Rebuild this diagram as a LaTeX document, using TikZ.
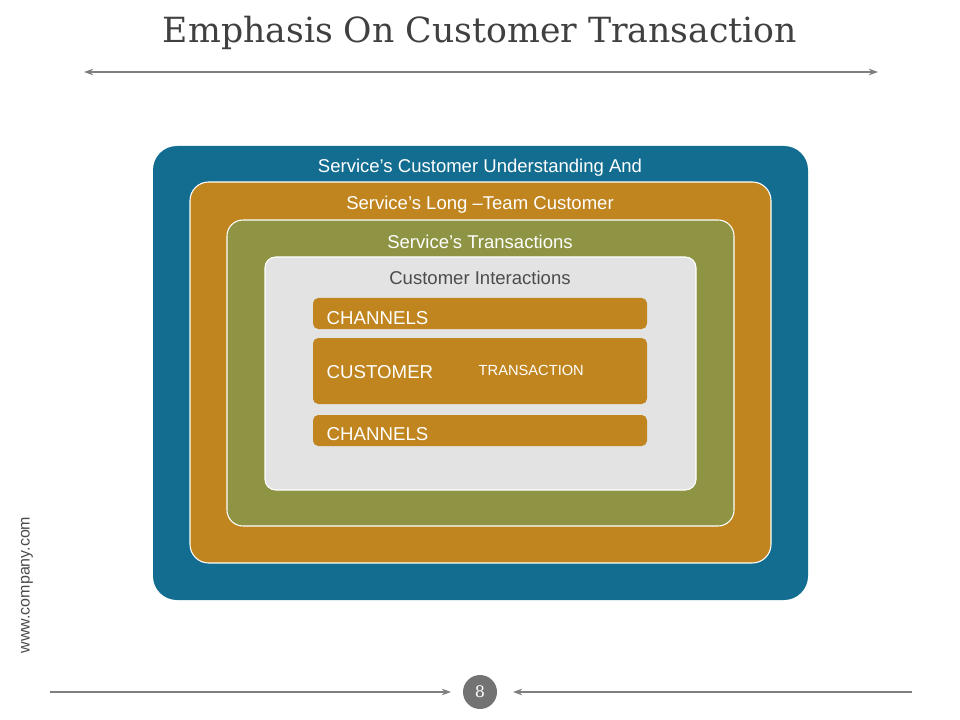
\documentclass[tikz,border=0pt]{standalone}
\usepackage{fontspec}
\setmainfont{Liberation Sans}
\newfontfamily\titlefont{DejaVu Serif}
\usetikzlibrary{arrows.meta}
\definecolor{cblue}{HTML}{136D91}
\definecolor{corange}{HTML}{C0851F}
\definecolor{colive}{HTML}{8E9443}
\definecolor{cgray}{HTML}{E3E3E3}
\definecolor{cline}{HTML}{7F7F7F}
\tikzset{
 box/.style={rounded corners=#1},
 lab/.style={text=white,font=\fontsize{13.9}{15}\selectfont},
 bar/.style={fill=corange,rounded corners=4},
 conn/.style={draw=cline,line width=0.8pt,-{Stealth[length=7pt,width=5pt]}}
}
\begin{document}
\begin{tikzpicture}[x=0.75pt,y=-0.75pt]
\useasboundingbox (0,0) rectangle (960,720);
\node[text=black!75,font=\titlefont\fontsize{26}{30}\selectfont] (title) at (480,33) {Emphasis On Customer Transaction};
\coordinate (tl) at (84,72); \coordinate (tr) at (878,72);
\draw[draw=cline,line width=0.8pt,{Stealth[length=7pt,width=5pt]}-{Stealth[length=7pt,width=5pt]}] (tl) -- (tr);
\fill[cblue,box=18] (153,146) rectangle (808,600);
\filldraw[fill=corange,draw=white,line width=0.8pt,box=14] (190,182) rectangle (771,563);
\filldraw[fill=colive,draw=white,line width=0.8pt,box=12] (227,220) rectangle (734,526);
\filldraw[fill=cgray,draw=white,line width=0.8pt,box=8] (265,257) rectangle (696,490);
\node[lab] (l1) at (480,168) {Service’s Customer Understanding And};
\node[lab] (l2) at (480,205) {Service’s Long –Team Customer};
\node[lab] (l3) at (480,242) {Service’s Transactions};
\node[lab,text=black!70] (l4) at (480,278) {Customer Interactions};
\fill[bar] (313,298) rectangle (647,329);
\fill[bar] (313,338) rectangle (647,404);
\fill[bar] (313,415) rectangle (647,446);
\node[lab,anchor=west,font=\fontsize{14}{15}\selectfont] (c1) at (322,318) {CHANNELS};
\node[lab,anchor=west,font=\fontsize{14}{15}\selectfont] (cu) at (322,372) {CUSTOMER};
\node[lab,anchor=west,font=\fontsize{11}{12}\selectfont] (tr2) at (474,370) {TRANSACTION};
\node[lab,anchor=west,font=\fontsize{14}{15}\selectfont] (c2) at (322,434) {CHANNELS};
\node[rotate=90,text=black!70,font=\fontsize{12}{14}\selectfont] (www) at (27,585) {www.company.com};
\node[circle,fill=black!55,minimum size=25.5pt,inner sep=0pt,text=white,font=\titlefont\fontsize{12}{14}\selectfont] (pg) at (480,692) {8};
\coordinate (bl) at (50,692); \coordinate (br) at (912,692);
\draw[conn] (bl) -- (451,692);
\draw[conn] (br) -- (513,692);
\end{tikzpicture}
\end{document}
